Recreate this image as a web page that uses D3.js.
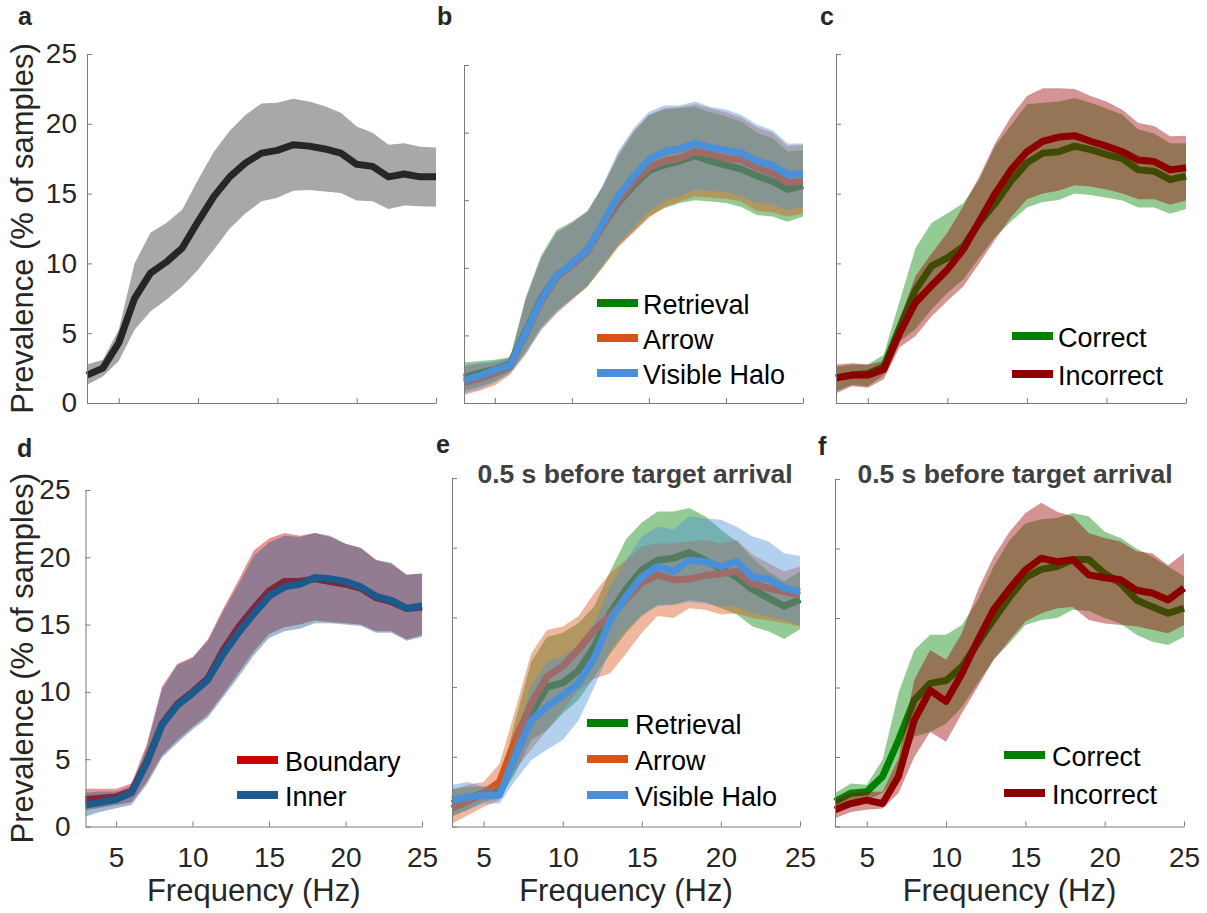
<!DOCTYPE html>
<html><head><meta charset="utf-8">
<script src="https://cdn.jsdelivr.net/npm/d3@7"></script>
<style>
body{margin:0;background:#fff}
svg{display:block;font-family:"Liberation Sans",Arial,Helvetica,sans-serif}
</style>
</head><body>
<svg id="chart" width="1207" height="913"></svg>
<script>
// ---------- data ----------
const freq   = [3,4,5,6,7,8,9,10,11,12,13,14,15,16,17,18,19,20,21,22,23,24,25];
const xTicks = [5,10,15,20,25];
const yTicks = [0,5,10,15,20,25];

// a: all samples
const aMean = [2.0,2.5,4.3,7.5,9.3,10.1,11.1,13.0,14.8,16.2,17.2,17.9,18.1,18.5,18.4,18.2,17.9,17.1,16.95,16.2,16.4,16.2,16.2];
const aHi   = [2.75,3.1,5.25,10.0,12.2,12.9,13.85,16.0,18.0,19.5,20.65,21.45,21.5,21.8,21.6,21.25,20.8,19.8,19.35,18.5,18.6,18.35,18.3];
const aLo   = [1.3,1.9,3.0,5.25,6.55,7.4,8.35,9.55,11.0,12.5,13.6,14.45,14.7,15.2,15.25,15.15,15.05,14.5,14.45,13.9,14.15,14.1,14.05];

// b: conditions
const bRetMean = [1.9,2.2,2.5,2.9,5.3,7.7,9.4,10.3,11.3,13.1,14.8,16.1,17.2,17.6,17.9,18.3,17.9,17.6,17.3,16.8,16.4,15.8,16.1];
const bRetHi   = [3.0,3.1,3.2,3.4,7.8,10.9,12.8,13.4,14.2,16.0,18.2,20.0,21.3,21.7,21.8,21.9,21.5,21.2,20.8,20.0,19.6,18.6,18.7];
const bRetLo   = [0.9,1.2,1.6,2.3,3.8,5.6,6.8,7.7,8.6,10.1,11.6,12.7,13.8,14.4,14.8,15.0,14.9,14.8,14.5,13.9,13.8,13.4,13.8];
const bArrMean = [1.5,1.8,2.2,2.7,5.1,7.5,9.3,10.2,11.2,13.1,14.9,16.3,17.4,17.9,18.1,18.6,18.4,18.1,18.0,17.4,17.0,16.3,16.4];
const bArrHi   = [2.7,2.9,3.0,3.3,7.6,10.7,12.6,13.3,14.1,16.0,18.4,20.1,21.3,21.8,21.9,22.1,21.8,21.5,21.1,20.4,20.0,19.0,19.1];
const bArrLo   = [0.6,0.9,1.3,2.1,3.6,5.4,6.6,7.6,8.6,10.0,11.5,12.6,13.7,14.5,14.9,15.3,15.2,15.1,14.9,14.2,14.1,13.8,14.0];
const bVisMean = [1.7,2.0,2.45,2.8,5.2,7.6,9.4,10.3,11.3,13.3,15.3,16.75,18.0,18.6,18.8,19.2,18.9,18.7,18.5,17.9,17.6,16.9,16.95];
const bVisHi   = [2.8,2.95,3.1,3.3,7.6,10.7,12.6,13.3,14.1,16.1,18.6,20.3,21.55,22.0,22.0,22.3,21.9,21.7,21.3,20.6,20.2,19.2,19.2];
const bVisLo   = [0.7,1.0,1.5,2.2,3.6,5.4,6.7,7.7,8.7,10.2,11.8,13.0,14.2,15.0,15.3,15.8,15.7,15.6,15.3,14.8,14.7,14.3,14.5];

// c: correct / incorrect
const cCorMean = [1.8,2.0,2.1,2.6,5.4,8.1,9.8,10.4,11.2,12.9,14.3,15.9,17.2,17.9,18.0,18.4,18.15,17.8,17.5,16.7,16.6,16.0,16.25];
const cCorHi   = [2.6,2.75,2.75,3.45,7.3,11.1,12.9,13.6,14.3,16.0,18.4,19.9,21.4,21.5,21.6,21.85,21.5,21.1,20.65,19.6,19.3,18.6,18.6];
const cCorLo   = [0.85,1.3,1.2,2.0,4.4,5.3,6.7,7.9,8.85,10.4,11.9,13.0,14.0,14.4,14.55,15.0,14.9,14.7,14.5,14.0,14.0,13.55,13.9];
const cIncMean = [1.8,2.0,2.0,2.4,5.0,7.2,8.4,9.55,11.0,13.0,15.0,16.7,18.0,18.75,19.05,19.15,18.75,18.4,18.0,17.4,17.3,16.7,16.85];
const cIncHi   = [2.75,2.85,2.75,3.0,6.0,9.1,10.7,12.2,14.1,16.2,18.6,20.5,22.0,22.55,22.55,22.5,22.0,21.6,21.0,20.05,19.85,19.1,19.15];
const cIncLo   = [0.7,1.2,1.1,1.7,4.0,4.8,6.2,7.3,8.35,10.0,11.7,13.3,14.6,15.0,15.2,15.6,15.5,15.3,15.0,14.6,14.6,14.2,14.5];

// d: boundary / inner
const dBouMean = [2.0,2.1,2.2,2.6,4.8,7.6,9.1,10.0,11.0,13.1,14.8,16.2,17.5,18.2,18.2,18.4,18.2,18.0,17.7,17.0,16.7,16.2,16.3];
const dBouHi   = [2.8,2.8,2.8,3.2,6.1,10.4,12.1,12.6,13.9,16.2,18.3,20.5,21.4,21.8,21.6,21.8,21.5,21.0,20.7,19.8,19.5,18.7,18.8];
const dBouLo   = [1.2,1.4,1.6,1.8,3.3,5.3,6.4,7.4,8.3,9.8,11.4,13.0,14.3,14.8,15.0,15.3,15.2,15.1,15.0,14.5,14.5,13.9,14.2];
const dInnMean = [1.6,1.8,2.0,2.5,4.7,7.55,9.0,9.9,10.9,12.8,14.4,15.8,17.1,17.8,18.0,18.5,18.4,18.2,17.8,17.1,16.8,16.2,16.4];
const dInnHi   = [2.5,2.6,2.6,3.0,5.9,10.2,12.0,12.5,13.8,16.0,18.0,20.1,21.1,21.6,21.5,21.8,21.6,21.0,20.7,19.8,19.6,18.7,18.8];
const dInnLo   = [0.75,1.1,1.35,1.6,3.1,5.1,6.2,7.2,8.1,9.6,11.1,12.7,14.0,14.5,14.7,15.1,15.1,15.0,14.9,14.4,14.4,13.8,14.1];

// e: conditions, 0.5 s before target arrival
const eRetMean = [1.65,2.0,2.4,2.5,5.5,8.1,10.0,10.3,11.2,12.9,15.3,17.0,18.4,19.1,19.25,19.65,19.1,18.5,17.9,17.0,16.4,15.8,16.3];
const eRetHi   = [2.7,2.85,2.85,3.0,7.6,11.8,13.6,13.9,14.6,15.8,18.3,20.6,21.8,22.6,22.6,22.85,22.25,21.3,20.45,19.25,18.3,17.6,18.3];
const eRetLo   = [0.7,1.2,1.8,2.0,3.8,6.2,6.9,8.1,9.1,10.75,12.4,13.9,15.1,15.9,15.9,16.25,16.1,15.65,15.2,14.35,14.0,13.45,14.15];
const eArrMean = [1.3,1.8,2.4,3.2,6.2,8.8,10.75,11.5,12.7,14.1,15.1,16.3,17.5,18.05,17.7,17.75,18.0,18.15,18.3,17.4,17.1,16.85,16.6];
const eArrHi   = [2.6,3.0,3.2,4.5,8.35,12.4,14.1,14.35,15.1,16.75,18.2,19.1,20.1,20.3,20.3,20.45,20.55,20.3,20.55,19.5,18.9,18.3,18.65];
const eArrLo   = [0.2,0.8,1.4,1.9,4.05,5.5,6.9,8.35,9.8,10.6,11.0,12.4,13.9,15.1,14.95,15.65,15.55,15.2,15.3,14.95,14.8,14.6,14.35];
const eVisMean = [1.9,2.1,2.25,2.25,5.0,7.6,8.6,9.4,10.3,12.1,14.8,16.5,17.9,18.65,18.3,19.1,19.0,18.65,19.0,17.9,17.75,17.1,16.85];
const eVisHi   = [3.0,3.2,2.85,2.85,6.4,10.0,11.8,12.2,13.0,14.6,17.2,19.1,20.8,21.5,21.3,22.25,22.1,22.0,21.5,20.8,20.45,19.6,19.4];
const eVisLo   = [0.8,1.2,1.65,1.65,3.3,4.75,5.5,6.2,7.6,10.0,12.65,14.1,15.2,15.8,15.9,16.1,16.0,15.8,15.8,15.3,15.05,14.8,14.45];

// f: correct / incorrect, 0.5 s before target arrival
const fCorMean = [1.8,2.4,2.5,3.6,6.2,9.1,10.3,10.5,11.5,13.2,14.9,16.5,17.9,18.5,18.7,19.2,19.2,18.2,17.5,16.3,15.8,15.35,15.7];
const fCorHi   = [2.4,3.1,3.0,4.8,9.6,12.7,13.8,13.8,14.5,16.3,18.7,20.6,21.8,22.1,22.2,22.55,22.3,21.2,20.75,20.0,19.4,18.7,18.0];
const fCorLo   = [1.2,1.8,1.9,2.4,3.8,6.45,6.8,7.4,8.6,10.3,12.0,13.2,14.5,14.85,15.0,15.6,15.5,15.0,14.6,13.8,13.3,13.05,13.65];
const fIncMean = [1.2,1.65,1.9,1.65,3.6,7.65,9.8,9.0,11.0,13.4,15.6,17.1,18.45,19.3,19.05,19.2,18.1,17.9,17.75,17.0,16.8,16.3,17.15];
const fIncHi   = [1.9,2.4,2.5,2.5,4.9,10.55,12.7,12.0,13.9,17.0,19.4,21.2,22.55,23.3,22.65,22.3,21.1,20.75,20.5,19.8,19.65,18.8,19.65];
const fIncLo   = [0.6,1.05,1.2,1.3,2.4,5.0,6.8,6.1,8.15,10.05,12.0,13.4,14.75,15.35,15.7,15.8,14.85,14.6,14.5,14.4,14.15,13.9,14.5];

// ---------- styles ----------
const C = {
  black: "#262626", gray: "#a8a8a8",
  ret: "#008000", arr: "#d95319", vis: "#4a90d9",
  cor: "#008000", inc: "#8c0000", incFill: "#990000",
  bou: "#cc0000", inn: "#1a5a8c"
};
const OP = 0.42;

const panels = [
  {lab:"a", lx:18, ly:25, x0:87, x1:436, yt:54, yb:403, yLabels:true, ypad:10, xLabels:false,
   series:[{m:aMean,hi:aHi,lo:aLo,color:C.black,fill:C.gray,op:1}], legend:null},
  {lab:"b", lx:437, ly:25, x0:464, x1:803, yt:65, yb:403, yLabels:false, xLabels:false,
   series:[{m:bRetMean,hi:bRetHi,lo:bRetLo,color:C.ret,fill:C.ret,op:OP,name:"Retrieval"},
           {m:bArrMean,hi:bArrHi,lo:bArrLo,color:C.arr,fill:C.arr,op:OP,name:"Arrow"},
           {m:bVisMean,hi:bVisHi,lo:bVisLo,color:C.vis,fill:C.vis,op:OP,name:"Visible Halo"}],
   legend:{x:597, tx:643, rows:[303,338,373]}},
  {lab:"c", lx:820, ly:25, x0:836, x1:1186, yt:54, yb:403, yLabels:false, xLabels:false,
   series:[{m:cCorMean,hi:cCorHi,lo:cCorLo,color:C.cor,fill:C.cor,op:OP,name:"Correct"},
           {m:cIncMean,hi:cIncHi,lo:cIncLo,color:C.inc,fill:C.incFill,op:OP,name:"Incorrect"}],
   legend:{x:1012, tx:1058, rows:[336,374]}},
  {lab:"d", lx:17, ly:457, x0:85.5, x1:422, yt:490, yb:826.5, yLabels:true, ypad:15, xLabels:true,
   series:[{m:dBouMean,hi:dBouHi,lo:dBouLo,color:C.bou,fill:C.bou,op:OP,name:"Boundary"},
           {m:dInnMean,hi:dInnHi,lo:dInnLo,color:C.inn,fill:C.inn,op:OP,name:"Inner"}],
   legend:{x:237, tx:285, rows:[760,795]}},
  {lab:"e", lx:436, ly:453, x0:452, x1:800, yt:478, yb:826.5, yLabels:false, xLabels:true,
   title:"0.5 s before target arrival", tcx:635,
   series:[{m:eRetMean,hi:eRetHi,lo:eRetLo,color:C.ret,fill:C.ret,op:OP,name:"Retrieval"},
           {m:eArrMean,hi:eArrHi,lo:eArrLo,color:C.arr,fill:C.arr,op:OP,name:"Arrow"},
           {m:eVisMean,hi:eVisHi,lo:eVisLo,color:C.vis,fill:C.vis,op:OP,name:"Visible Halo"}],
   legend:{x:587, tx:635, rows:[723,759,795]}},
  {lab:"f", lx:818, ly:455, x0:835, x1:1184, yt:479, yb:826.5, yLabels:false, xLabels:true,
   title:"0.5 s before target arrival", tcx:1015,
   series:[{m:fCorMean,hi:fCorHi,lo:fCorLo,color:C.cor,fill:C.cor,op:OP,name:"Correct"},
           {m:fIncMean,hi:fIncHi,lo:fIncLo,color:C.inc,fill:C.incFill,op:OP,name:"Incorrect"}],
   legend:{x:1004, tx:1052, rows:[755,793]}}
];

const svg = d3.select("#chart");
const axisColor = "#7a7a7a";
const textColor = "#262626";

panels.forEach(p => {
  const x = d3.scaleLinear().domain([3,25]).range([p.x0,p.x1]);
  const y = d3.scaleLinear().domain([0,25]).range([p.yb,p.yt]);
  const g = svg.append("g");

  // series: band then line
  p.series.forEach(s => {
    const data = freq.map((f,i)=>({f, m:s.m[i], lo:s.lo[i], hi:s.hi[i]}));
    g.append("path").datum(data)
      .attr("d", d3.area().x(d=>x(d.f)).y0(d=>y(d.lo)).y1(d=>y(d.hi)))
      .attr("fill", s.fill).attr("fill-opacity", s.op).attr("stroke","none");
    g.append("path").datum(data)
      .attr("d", d3.line().x(d=>x(d.f)).y(d=>y(d.m)))
      .attr("fill","none").attr("stroke", s.color).attr("stroke-width",7)
      .attr("stroke-linejoin","round");
  });

  // axes
  const xa = d3.axisBottom(x).tickValues(xTicks).tickSizeInner(-5).tickSizeOuter(0).tickPadding(21);
  if (!p.xLabels) xa.tickFormat(()=> "");
  const ya = d3.axisLeft(y).tickValues(yTicks).tickSizeInner(-5).tickSizeOuter(0).tickPadding(p.ypad || 10);
  if (!p.yLabels) ya.tickFormat(()=> "");

  const gx = g.append("g").attr("transform",`translate(0,${p.yb})`).call(xa);
  const gy = g.append("g").attr("transform",`translate(${p.x0},0)`).call(ya);
  [gx,gy].forEach(ax => {
    ax.select(".domain").attr("stroke",axisColor).attr("stroke-width",1);
    ax.selectAll(".tick line").attr("stroke",axisColor).attr("stroke-width",1);
    ax.selectAll(".tick text").attr("fill",textColor)
      .style("font-family",'"Liberation Sans",Arial,sans-serif').style("font-size","28px");
  });

  // axis titles
  if (p.xLabels) {
    g.append("text").attr("x",(p.x0+p.x1)/2).attr("y",901).attr("text-anchor","middle")
      .attr("fill",textColor).style("font-size","31px").text("Frequency (Hz)");
  }
  if (p.yLabels) {
    const cy = (p.yt+p.yb)/2;
    g.append("text").attr("transform",`translate(33,${cy}) rotate(-90)`).attr("text-anchor","middle")
      .attr("fill",textColor).style("font-size","31px").text("Prevalence (% of samples)");
  }

  // panel letter
  g.append("text").attr("x",p.lx).attr("y",p.ly).attr("fill",textColor)
    .style("font-size","25px").style("font-weight","bold").text(p.lab);

  // title
  if (p.title) {
    g.append("text").attr("x",p.tcx).attr("y",483).attr("text-anchor","middle")
      .attr("fill","#404040").style("font-size","26.5px").style("font-weight","bold").text(p.title);
  }

  // legend
  if (p.legend) {
    p.series.forEach((s,i) => {
      const cy = p.legend.rows[i];
      g.append("line").attr("x1",p.legend.x).attr("x2",p.legend.x+41).attr("y1",cy).attr("y2",cy)
        .attr("stroke",s.color).attr("stroke-width",8);
      g.append("text").attr("x",p.legend.tx).attr("y",cy+11).attr("fill","#000")
        .style("font-size","27px").text(s.name);
    });
  }
});
</script>
</body></html>
